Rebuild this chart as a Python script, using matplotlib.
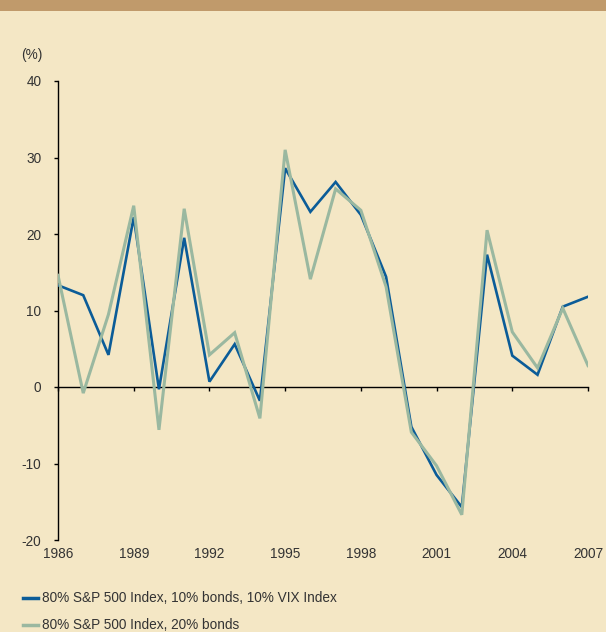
import matplotlib
matplotlib.use("Agg")
import matplotlib.pyplot as plt
from matplotlib.lines import Line2D
from matplotlib.patches import Rectangle

years = list(range(1986, 2008))
vix_mix = [13.3, 12.0, 4.2, 22.2, -0.3, 19.5, 0.7, 5.6, -1.8, 28.6, 22.9,
           26.8, 22.5, 14.4, -5.2, -11.5, -15.7, 17.3, 4.1, 1.6, 10.5, 11.8]
bond_mix = [14.6, -0.8, 9.5, 23.7, -5.6, 23.3, 4.2, 7.1, -4.1, 31.0, 14.1,
            25.9, 23.1, 13.1, -5.9, -10.3, -16.7, 20.5, 7.2, 2.5, 10.3, 2.8]
xticks = [1986, 1989, 1992, 1995, 1998, 2001, 2004, 2007]
yticks = [-20, -10, 0, 10, 20, 30, 40]
labels = ["80% S&P 500 Index, 10% bonds, 10% VIX Index",
          "80% S&P 500 Index, 20% bonds"]

BG = "#F4E7C5"
BAR = "#C09A6B"
BLUE = "#0B5C98"
GREEN = "#9AB8A0"
TXT = "#333333"
FS = 9.8

plt.rcParams['font.family'] = ['Liberation Sans', 'DejaVu Sans']
plt.rcParams['axes.unicode_minus'] = False

fig = plt.figure(figsize=(6.06, 6.32), dpi=100, facecolor=BG)
fig.patches.append(Rectangle((0, 1 - 11 / 632), 1, 11 / 632, transform=fig.transFigure,
                             facecolor=BAR, edgecolor='none'))
ax = fig.add_axes([58 / 606, 1 - 540 / 632, 530 / 606, 459 / 632])
ax.set_facecolor(BG)

ax.plot(years, vix_mix, color=BLUE, lw=1.9, solid_joinstyle='miter', zorder=3)
ax.plot(years, bond_mix, color=GREEN, lw=2.2, solid_joinstyle='miter', zorder=4)

ax.set_xlim(1986, 2007)
ax.set_ylim(-20, 40)
for s in ['top', 'right', 'bottom']:
    ax.spines[s].set_visible(False)
ax.spines['left'].set_color('black')
ax.spines['left'].set_linewidth(1.0)

ax.set_yticks(yticks)
ax.tick_params(axis='y', direction='out', length=3, width=1, colors='black',
               labelcolor=TXT, labelsize=FS, pad=9)
ax.set_xticks(xticks)
ax.tick_params(axis='x', length=0, labelcolor=TXT, labelsize=FS, pad=5)

sec = ax.secondary_xaxis(1 / 3)
sec.set_xticks(xticks)
sec.set_xticklabels([])
sec.spines['bottom'].set_color('black')
sec.spines['bottom'].set_linewidth(1.0)
sec.tick_params(axis='x', direction='out', length=3, width=1, colors='black')

fig.text(21 / 606, 1 - 55 / 632, "(%)", fontsize=FS, color=TXT, va='center', ha='left')

handles = [Line2D([], [], color=BLUE, lw=2.5), Line2D([], [], color=GREEN, lw=2.5)]
fig.legend(handles, labels, loc='upper left', bbox_to_anchor=(18 / 606, 1 - 586 / 632),
           frameon=False, fontsize=FS, handlelength=1.1, handletextpad=0.3,
           labelspacing=0.95, labelcolor=TXT, borderaxespad=0, borderpad=0.4)

fig.savefig("out.png", dpi=100, facecolor=BG)
